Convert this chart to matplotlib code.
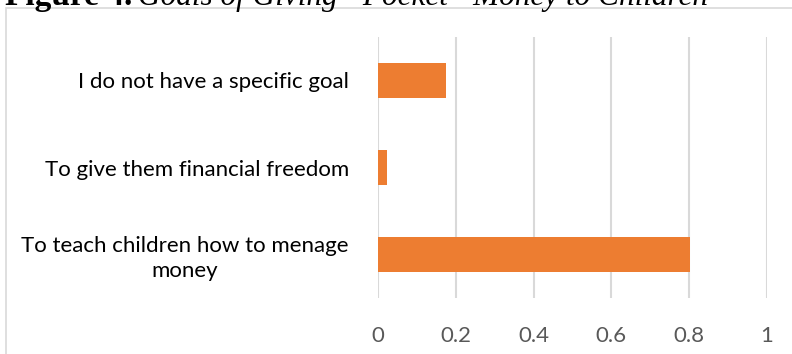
import matplotlib
matplotlib.use("Agg")
import matplotlib.pyplot as plt
from matplotlib.patches import Rectangle

categories = ["To teach children how to menage\nmoney",
              "To give them financial freedom",
              "I do not have a specific goal"]
values = [0.803, 0.022, 0.175]
xticks = [0, 0.2, 0.4, 0.6, 0.8, 1]
xtick_labels = ["0", "0.2", "0.4", "0.6", "0.8", "1"]
title_bold = "Figure 4."
title_italic = "Goals of Giving \u201cPocket\u201d Money to Children"

W, H = 792, 354
fig = plt.figure(figsize=(W / 100, H / 100), dpi=100)
fig.patch.set_facecolor("white")

# chart frame (partially outside image)
fig.add_artist(Rectangle((5.5 / W, -0.2), 1.2, (H - 7.5) / H + 0.2,
                         transform=fig.transFigure, fill=False,
                         edgecolor="#d9d9d9", linewidth=1.2))

# title, clipped at top
fig.text(5 / W, 1 - 5 / H, title_bold, fontfamily="Liberation Serif",
         fontweight="bold", fontsize=24, va="baseline", ha="left")
fig.text(138 / W, 1 - 5 / H, title_italic,
         fontfamily="Liberation Serif", fontstyle="italic", fontsize=22.5,
         va="baseline", ha="left")

ax = fig.add_axes([378 / W, 1 - 298 / H, 389 / W, 261 / H])
ypos = list(range(len(categories)))
ax.barh(ypos, values, height=0.4, color="#ED7D31", zorder=3)
ax.set_xlim(0, 1)
ax.set_ylim(-0.5, 2.5)
ax.set_xticks(xticks)
ax.set_xticklabels(xtick_labels, fontfamily="Lato", fontsize=16, color="#595959")
ax.set_yticks(ypos)
ax.set_yticklabels(categories, fontfamily="Lato", fontsize=16, color="black",
                   multialignment="center", linespacing=1.3)
ax.tick_params(axis="both", length=0)
ax.tick_params(axis="x", pad=20)
ax.tick_params(axis="y", pad=21)
ax.grid(axis="x", color="#d9d9d9", linewidth=1.5, zorder=0)
for s in ax.spines.values():
    s.set_visible(False)
ax.set_facecolor("none")

fig.savefig("out.png", dpi=100)
